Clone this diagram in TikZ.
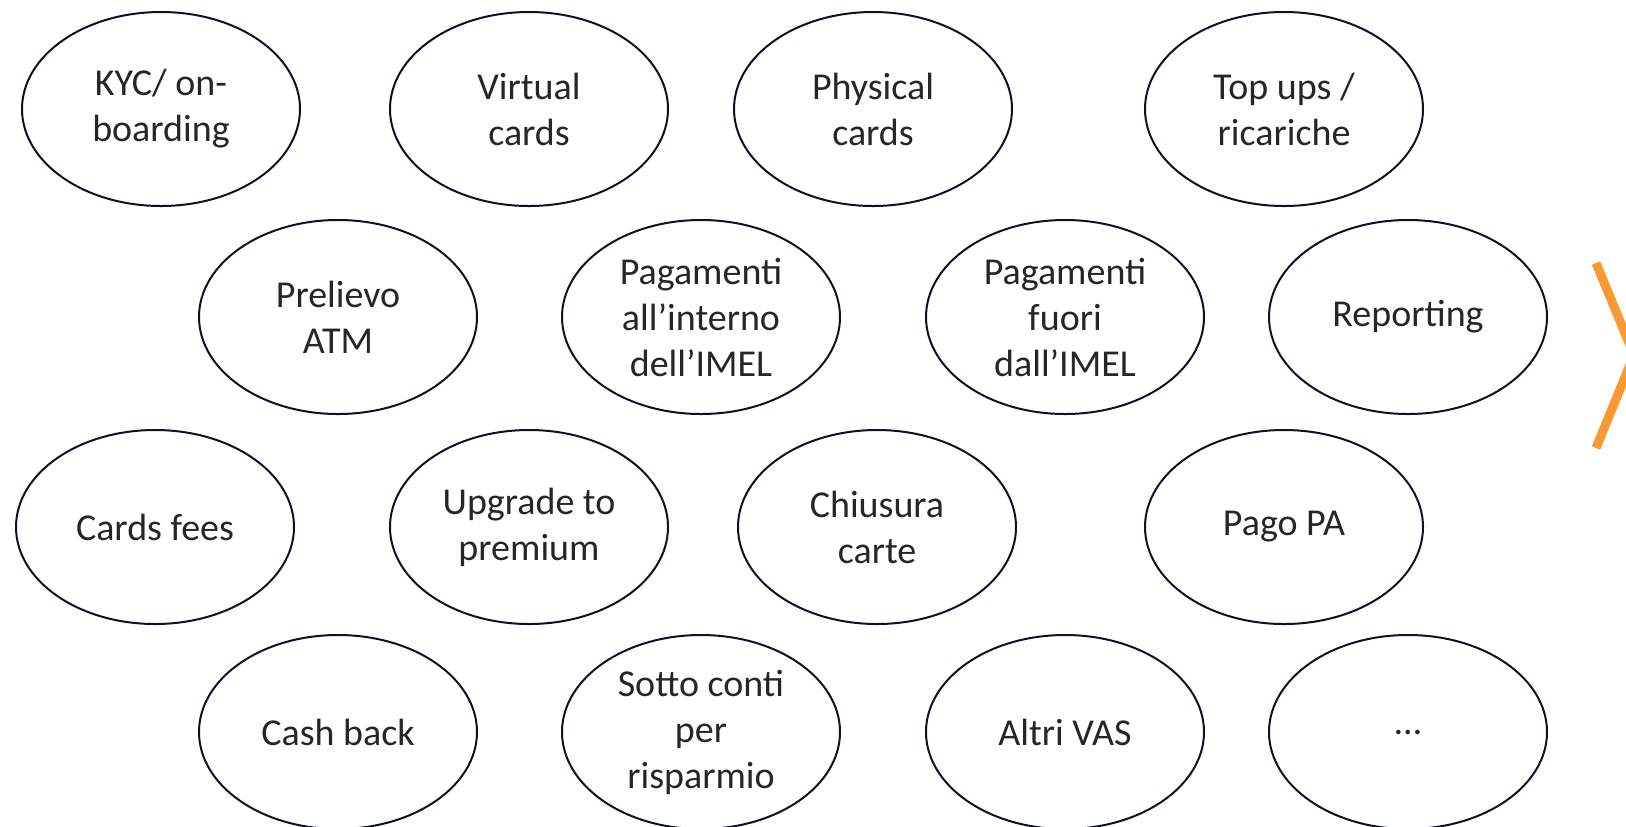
\documentclass[tikz,border=0pt]{standalone}
\usepackage{fontspec}
\setmainfont{Carlito}
\usepackage{tikz}
\usetikzlibrary{shapes, positioning}
\definecolor{chevorange}{RGB}{250,152,50}
\definecolor{ovalline}{RGB}{12,16,40}
\tikzset{
    bubble/.style={draw=ovalline, line width=1pt, ellipse, inner sep=0pt,
        minimum width=139pt, minimum height=97pt, align=center,
        font=\fontsize{19}{23}\selectfont, text=black!85}
}
\begin{document}
\begin{tikzpicture}[x=0.5pt, y=-0.5pt]
    \useasboundingbox (0,0) rectangle (1626,826);
    % row 1
    \node[bubble] (kyc) at (161,109) {KYC/ on-\\boarding};
    \node[bubble] (virt) at (529,109) {Virtual\\cards};
    \node[bubble] (phys) at (873,109) {Physical\\cards};
    \node[bubble] (topup) at (1284,109) {Top ups /\\ricariche};
    % row 2
    \node[bubble] (atm) at (338,317) {Prelievo\\ATM};
    \node[bubble] (payin) at (701,317) {Pagamenti\\all’interno\\dell’IMEL};
    \node[bubble] (payout) at (1065,317) {Pagamenti\\fuori\\dall’IMEL};
    \node[bubble] (report) at (1408,317) {Reporting};
    % row 3
    \node[bubble] (fees) at (155,527) {Cards fees};
    \node[bubble] (upgr) at (529,527) {Upgrade to\\premium};
    \node[bubble] (close) at (877,527) {Chiusura\\carte};
    \node[bubble] (pagopa) at (1284,527) {Pago PA};
    % row 4
    \node[bubble] (cash) at (338,732) {Cash back};
    \node[bubble] (save) at (701,732) {Sotto conti\\per\\risparmio};
    \node[bubble] (vas) at (1065,732) {Altri VAS};
    \node[bubble] (more) at (1408,732) {…};
    % chevron at the right edge
    \coordinate (chtop) at (1596,263);
    \coordinate (chtip) at (1634,355);
    \coordinate (chbot) at (1596,448);
    \draw[chevorange, line width=4.5pt] (chtop) -- (chtip) -- (chbot);
\end{tikzpicture}
\end{document}
